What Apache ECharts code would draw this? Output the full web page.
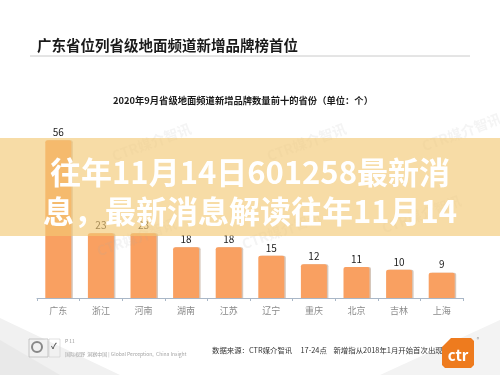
<!DOCTYPE html>
<html>
<head>
<meta charset="utf-8">
<script src="https://cdn.jsdelivr.net/npm/echarts@6/dist/echarts.min.js"></script>
<style>
html,body{margin:0;padding:0;background:#fff;}
#c{width:500px;height:375px;}
</style>
</head>
<body>
<div id="c"></div>
<script>
var categories = ['广东','浙江','河南','湖南','江苏','辽宁','重庆','北京','吉林','上海'];
var values = [56, 23, 23, 18, 18, 15, 12, 11, 10, 9];
var pageTitle = '广东省位列省级地面频道新增品牌榜首位';
var chartTitle = '2020年9月省级地面频道新增品牌数量前十的省份（单位：个）';
var overlayLines = ['往年11月14日601258最新消', '息，最新消息解读往年11月14'];
var sourceText = '数据来源：CTR媒介智讯     17-24点    新增指从2018年1月开始首次出现';

var FONT = '"Noto Sans CJK SC", "Noto Sans", sans-serif';
var chart = echarts.init(document.getElementById('c'), null, {renderer: 'canvas'});

var watermarks = [
  [95, 245], [240, 238], [380, 222], [265, 150], [420, 140], [110, 150]
].map(function (p) {
  return {
    type: 'text', x: p[0], y: p[1], rotation: 0.35, z: 5,
    style: {text: 'CTR媒介智讯', font: 'bold 14px ' + FONT, fill: 'rgba(170,170,170,0.13)'}
  };
});

var option = {
  animation: false,
  backgroundColor: '#ffffff',
  grid: {left: 37, right: 37, top: 129, bottom: 77},
  xAxis: {
    type: 'category',
    data: categories,
    axisLine: {lineStyle: {color: '#a9b7c7', width: 1}},
    axisTick: {show: true, length: 3, lineStyle: {color: '#a9b7c7'}},
    axisLabel: {color: '#8a8a8a', fontSize: 9, fontFamily: FONT, margin: 8}
  },
  yAxis: {type: 'value', min: 0, max: 60, show: false, splitLine: {show: false}},
  series: [{
    type: 'bar',
    data: values,
    barWidth: 26,
    itemStyle: {
      color: '#f9a061',
      borderRadius: [2, 2, 0, 0],
      shadowColor: 'rgba(120,70,30,0.3)',
      shadowOffsetX: 1.5,
      shadowBlur: 0
    },
    label: {show: true, position: 'top', distance: 3, color: '#222', fontSize: 10, fontFamily: FONT}
  }],
  graphic: [
    {type: 'polygon', z: 0, shape: {points: [[0, 318], [120, 375], [0, 375]]}, style: {fill: '#f1f1f1'}},
    {type: 'polygon', z: 0, shape: {points: [[0, 340], [60, 375], [0, 375]]}, style: {fill: '#e9e9e9'}},
    {type: 'polygon', z: 0, shape: {points: [[380, 375], [500, 320], [500, 375]]}, style: {fill: '#f3f3f3'}},
    {type: 'text', x: 37, y: 45, style: {text: pageTitle, font: 'bold 14.5px ' + FONT, fill: '#1a1a1a', textVerticalAlign: 'middle'}},
    {type: 'line', shape: {x1: 30, y1: 56, x2: 470, y2: 56}, style: {stroke: '#bdbdbd', lineWidth: 0.8}},
    {type: 'text', x: 243, y: 100, style: {text: chartTitle, font: 'bold 9.3px ' + FONT, fill: '#1a1a1a', textAlign: 'center', textVerticalAlign: 'middle'}}
  ].concat(watermarks).concat([
    {type: 'rect', z: 20, shape: {x: 0, y: 138, width: 500, height: 98}, style: {fill: 'rgba(242,200,115,0.64)'}},
    {type: 'text', z: 21, x: 250, y: 172, style: {text: overlayLines[0], font: 'bold 31px ' + FONT, fill: '#ffffff', textAlign: 'center', textVerticalAlign: 'middle', shadowColor: 'rgba(150,100,30,0.35)', shadowBlur: 3}},
    {type: 'text', z: 21, x: 250, y: 211, style: {text: overlayLines[1], font: 'bold 31px ' + FONT, fill: '#ffffff', textAlign: 'center', textVerticalAlign: 'middle', shadowColor: 'rgba(150,100,30,0.35)', shadowBlur: 3}},
    {type: 'rect', shape: {x: 29, y: 339, width: 19, height: 18}, style: {fill: 'none', stroke: '#bbb', lineWidth: 0.8}},
    {type: 'circle', shape: {cx: 37, cy: 347, r: 5}, style: {fill: 'none', stroke: '#888', lineWidth: 2}},
    {type: 'rect', shape: {x: 49, y: 339, width: 11, height: 18}, style: {fill: 'none', stroke: '#ccc', lineWidth: 0.6}},
    {type: 'text', x: 51, y: 346, style: {text: '✓', font: 'bold 8px ' + FONT, fill: '#555', textVerticalAlign: 'middle'}},
    {type: 'text', x: 65, y: 341, style: {text: 'P 11', font: '5px ' + FONT, fill: '#999', textVerticalAlign: 'middle'}},
    {type: 'text', x: 65, y: 354, style: {text: '国际视野  洞察中国 | Global Perception,  China Insight', font: '5px ' + FONT, fill: '#a5a5a5', textVerticalAlign: 'middle'}},
    {type: 'text', x: 212, y: 350, style: {text: sourceText, font: '7.4px ' + FONT, fill: '#333', textVerticalAlign: 'middle'}},
    {type: 'polygon', shape: {points: [[451, 338], [471, 338], [474, 341], [474, 365], [471, 368], [445, 368], [442, 365], [442, 347]]}, style: {fill: '#ee7b1e'}},
    {type: 'text', x: 458, y: 355, style: {text: 'ctr', font: 'bold 15px ' + FONT, fill: '#ffffff', textAlign: 'center', textVerticalAlign: 'middle'}},
    {type: 'text', x: 478, y: 339, style: {text: '®', font: '5px ' + FONT, fill: '#999', textAlign: 'center', textVerticalAlign: 'middle'}}
  ])
};
chart.setOption(option);
</script>
</body>
</html>
